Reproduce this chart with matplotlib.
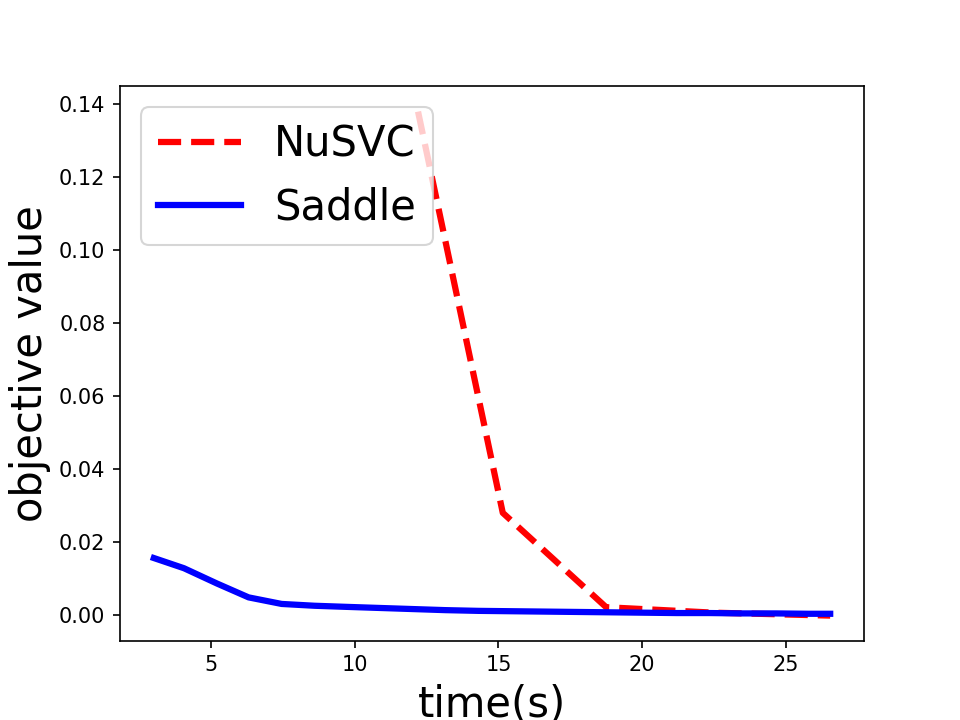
import matplotlib
matplotlib.use("Agg")
import matplotlib.pyplot as plt

# NuSVC objective over time
nusvc_time = [12.2, 15.15, 18.75, 22.5, 26.55]
nusvc_obj = [0.138, 0.0279, 0.0020, 0.0005, -0.0003]

# Saddle objective over time
saddle_time = [3.0, 4.05, 5.2, 6.3, 7.45, 8.6, 9.7, 10.85, 12.0, 13.15, 14.3,
               15.45, 16.6, 17.75, 18.9, 20.05, 21.2, 22.35, 23.5, 24.65, 25.8, 26.55]
saddle_obj = [0.0155, 0.0127, 0.0085, 0.0047, 0.0029, 0.0024, 0.0021, 0.0018,
              0.0015, 0.0012, 0.0010, 0.0009, 0.0008, 0.0007, 0.0006, 0.0005,
              0.0004, 0.0004, 0.0003, 0.0003, 0.0002, 0.0002]

fig, ax = plt.subplots(figsize=(6.4, 4.8), dpi=150)
ax.plot(nusvc_time, nusvc_obj, 'r--', linewidth=3, label='NuSVC')
ax.plot(saddle_time, saddle_obj, 'b-', linewidth=3, label='Saddle')
ax.set_xlabel('time(s)', fontsize=20)
ax.set_ylabel('objective value', fontsize=20)
ax.legend(loc='upper left', fontsize=20)

fig.savefig('out.png', dpi=150)
